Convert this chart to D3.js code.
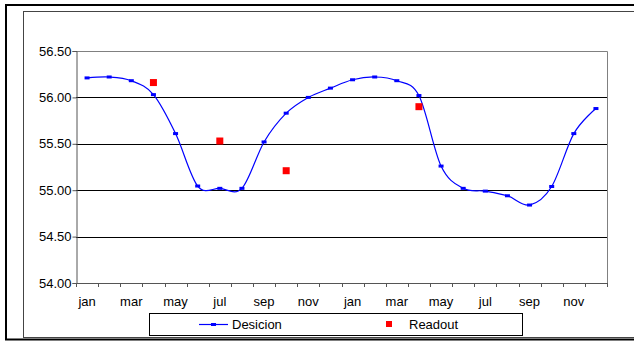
<!DOCTYPE html>
<html>
<head>
<meta charset="utf-8">
<script src="https://cdn.jsdelivr.net/npm/d3@7"></script>
<style>
  html, body { margin: 0; padding: 0; background: #fff; }
  svg { display: block; }
  text { font-family: "Liberation Sans", Arial, sans-serif; font-size: 13px; fill: #000; }
</style>
</head>
<body>
<svg id="chart" width="634" height="345"></svg>
<script>
// ---- data ----
const months = ["jan","feb","mar","apr","may","jun","jul","aug","sep","oct","nov","dec",
                "jan","feb","mar","apr","may","jun","jul","aug","sep","oct","nov","dec"];
const desicion = [56.21, 56.22, 56.18, 56.03, 55.61, 55.045, 55.02, 55.02, 55.52, 55.83, 56.00, 56.10,
                  56.19, 56.22, 56.18, 56.02, 55.26, 55.02, 54.99, 54.94, 54.84, 55.04, 55.61, 55.88];
const readoutIdx = [3, 6, 9, 15];
const readout = [56.16, 55.53, 55.21, 55.90];
const yTicks = [54.0, 54.5, 55.0, 55.5, 56.0, 56.5];
const seriesNames = ["Desicion", "Readout"];

// ---- layout ----
const svg = d3.select("#chart");
const L = 76, R = 607, T = 51, B = 283;

// frames
svg.append("rect").attr("x", 6).attr("y", 5).attr("width", 800).attr("height", 334.5)
  .attr("fill", "none").attr("stroke", "#000").attr("stroke-width", 2);
svg.append("rect").attr("x", 23.5).attr("y", 11.5).attr("width", 800).attr("height", 326)
  .attr("fill", "none").attr("stroke", "#444").attr("stroke-width", 1);

const x = d3.scaleBand().domain(d3.range(months.length)).range([L, R]).padding(0);
const y = d3.scaleLinear().domain([54, 56.5]).range([B, T]);

// gridlines
svg.append("g").selectAll("line").data(yTicks.filter(v => v > 54 && v < 56.5)).join("line")
  .attr("x1", L).attr("x2", R)
  .attr("y1", d => Math.round(y(d)) + 0.5).attr("y2", d => Math.round(y(d)) + 0.5)
  .attr("stroke", "#000").attr("stroke-width", 1);

// plot border (top, right)
svg.append("path")
  .attr("d", `M${L},${T + 0.5}H${R + 0.5}V${B}`)
  .attr("fill", "none").attr("stroke", "#808080").attr("stroke-width", 1);

// y axis
const yAxis = d3.axisLeft(y).tickValues(yTicks).tickFormat(d3.format(".2f")).tickSize(4).tickPadding(1);
const gy = svg.append("g").attr("transform", `translate(${L + 0.5},0)`).call(yAxis);
gy.select(".domain").attr("stroke", "#555");
gy.selectAll(".tick line").attr("stroke", "#555");
gy.selectAll(".tick text").style("font-family", '"Liberation Sans", Arial, sans-serif').style("font-size", "13px").attr("fill", "#000");

// x axis: line + ticks between categories
const gx = svg.append("g");
gx.append("line").attr("x1", L).attr("x2", R + 0.5)
  .attr("y1", B + 0.5).attr("y2", B + 0.5).attr("stroke", "#555");
const bounds = d3.range(months.length + 1).map(i => i < months.length ? x(i) : x(months.length - 1) + x.bandwidth());
gx.selectAll("line.t").data(bounds).join("line").attr("class", "t")
  .attr("x1", d => Math.round(d) + 0.5).attr("x2", d => Math.round(d) + 0.5)
  .attr("y1", B).attr("y2", B + 4).attr("stroke", "#555");
gx.selectAll("text").data(d3.range(months.length).filter(i => i % 2 === 0)).join("text")
  .attr("x", i => x(i) + x.bandwidth() / 2).attr("y", 306)
  .attr("text-anchor", "middle").text(i => months[i]);

// Desicion line
const line = d3.line()
  .x((d, i) => x(i) + x.bandwidth() / 2)
  .y(d => y(d))
  .curve(d3.curveCardinal.tension(0));
svg.append("path").datum(desicion).attr("d", line)
  .attr("fill", "none").attr("stroke", "#0000FF").attr("stroke-width", 1.2);
svg.append("g").selectAll("rect").data(desicion).join("rect")
  .attr("x", (d, i) => x(i) + x.bandwidth() / 2 - 2.5)
  .attr("y", d => y(d) - 1.5)
  .attr("width", 5).attr("height", 3).attr("fill", "#0000FF");

// Readout squares
svg.append("g").selectAll("rect").data(readout).join("rect")
  .attr("x", (d, i) => x(readoutIdx[i]) + x.bandwidth() / 2 - 3.5)
  .attr("y", d => y(d) - 3.5)
  .attr("width", 7).attr("height", 7).attr("fill", "#FF0000");

// legend
const lg = svg.append("g");
lg.append("rect").attr("x", 149.5).attr("y", 313.5).attr("width", 373).attr("height", 22)
  .attr("fill", "#fff").attr("stroke", "#000").attr("stroke-width", 1);
lg.append("line").attr("x1", 199).attr("x2", 228).attr("y1", 324.5).attr("y2", 324.5)
  .attr("stroke", "#0000FF").attr("stroke-width", 1.2);
lg.append("rect").attr("x", 211).attr("y", 323).attr("width", 5).attr("height", 3).attr("fill", "#0000FF");
lg.append("text").attr("x", 232).attr("y", 329).text(seriesNames[0]);
lg.append("rect").attr("x", 386).attr("y", 321).attr("width", 6).attr("height", 6).attr("fill", "#FF0000");
lg.append("text").attr("x", 409).attr("y", 329).text(seriesNames[1]);
</script>
</body>
</html>
